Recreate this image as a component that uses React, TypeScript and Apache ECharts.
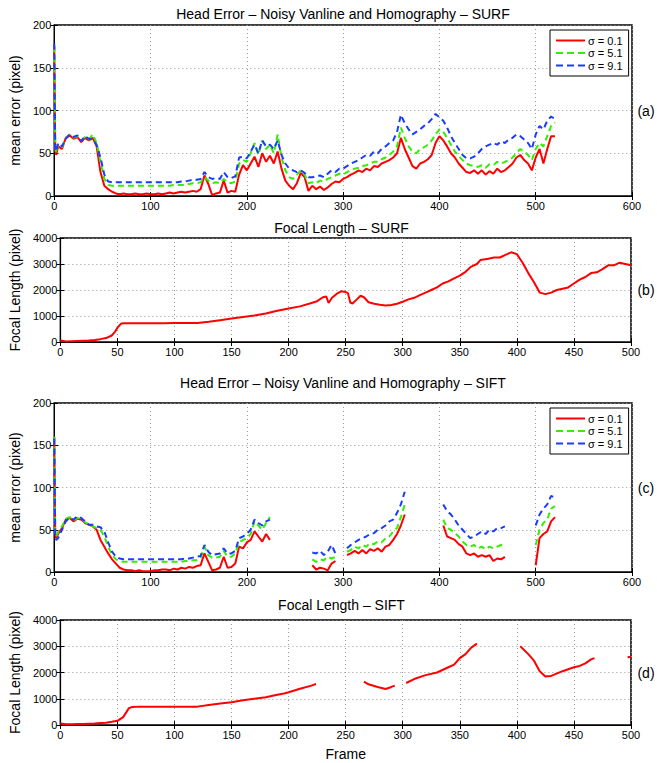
import React, { useEffect, useRef } from "react";
import * as echarts from "echarts";

// ---------- data ----------
const legendNames = ["σ = 0.1", "σ = 5.1", "σ = 9.1"];

// frame sample grid for the head-error panels (a) and (c)
const framesAC = [
  0, 1, 2, 4, 8, 12, 16, 20, 24, 28,
  32, 36, 40, 44, 48, 52, 56, 60, 64, 68,
  72, 76, 80, 84, 88, 92, 96, 100, 104, 108,
  112, 116, 120, 124, 128, 132, 136, 140, 144, 148,
  152, 156, 160, 164, 168, 172, 176, 180, 184, 188,
  192, 196, 200, 204, 208, 212, 216, 220, 224, 228,
  232, 236, 240, 244, 248, 252, 256, 260, 264, 268,
  272, 276, 280, 284, 288, 292, 296, 300, 304, 308,
  312, 316, 320, 324, 328, 332, 336, 340, 344, 348,
  352, 356, 360, 364, 368, 372, 376, 380, 384, 388,
  392, 396, 400, 404, 408, 412, 416, 420, 424, 428,
  432, 436, 440, 444, 448, 452, 456, 460, 464, 468,
  472, 476, 480, 484, 488, 492, 496, 500, 504, 508,
  512, 516, 520,
];

// (a) SURF head error
const surfRed = [
  175, 55, 48, 58, 55, 68, 71, 67, 69, 63,
  68, 65, 68, 58, 28, 12, 8, 5, 3, 2,
  3, 2, 2, 3, 2, 2, 3, 2, 2, 3,
  2, 3, 4, 3, 4, 5, 4, 5, 6, 5,
  8, 24, 14, 1, 3, 4, 18, 4, 6, 5,
  25, 36, 30, 38, 46, 34, 50, 40, 47, 38,
  52, 32, 18, 12, 8, 15, 27, 22, 6, 12,
  8, 11, 7, 10, 14, 17, 16, 20, 22, 25,
  27, 30, 28, 32, 30, 35, 34, 38, 40, 42,
  45, 50, 68, 55, 45, 35, 32, 38, 40, 43,
  48, 62, 70, 65, 58, 50, 45, 38, 33, 28,
  27, 30, 26, 30, 25, 29, 26, 32, 28, 30,
  34, 38, 45, 48, 42, 38, 30, 45, 55, 38,
  55, 70, 70,
];
const surfGreen = [
  175, 58, 50, 60, 57, 68, 72, 68, 70, 65,
  69, 66, 72, 62, 40, 20, 13, 12, 12, 12,
  12, 12, 12, 12, 12, 12, 12, 12, 12, 12,
  12, 12, 12, 13, 13, 13, 13, 14, 15, 15,
  16, 22, 18, 15, 16, 15, 20, 16, 15, 17,
  38, 42, 40, 50, 62, 48, 65, 55, 60, 50,
  72, 45, 30, 22, 20, 25, 30, 25, 15, 16,
  15, 18, 17, 20, 22, 24, 26, 25, 28, 30,
  32, 33, 35, 36, 38, 40, 40, 43, 45, 48,
  52, 58, 80, 68, 58, 52, 50, 55, 57, 60,
  65, 72, 78, 75, 68, 60, 52, 47, 42, 38,
  36, 35, 34, 36, 33, 37, 36, 40, 38, 40,
  42, 45, 50, 55, 52, 48, 42, 55, 62, 58,
  70, 82, 86,
];
const surfBlue = [
  178, 56, 52, 62, 58, 67, 72, 69, 71, 64,
  70, 67, 66, 60, 45, 25, 17, 16, 16, 16,
  16, 16, 16, 16, 16, 16, 16, 16, 16, 16,
  16, 16, 16, 16, 16, 17, 17, 18, 19, 19,
  20, 28, 22, 20, 21, 20, 28, 22, 21, 23,
  45, 46, 44, 52, 60, 50, 65, 58, 60, 55,
  65, 48, 38, 32, 30, 28, 30, 27, 22, 22,
  23, 24, 22, 26, 30, 28, 32, 32, 35, 38,
  40, 42, 45, 48, 47, 52, 50, 55, 58, 62,
  65, 75, 95, 85, 78, 72, 75, 78, 82, 85,
  90, 96, 92, 88, 80, 70, 62, 55, 48, 44,
  44, 46, 50, 55, 58, 60, 62, 60, 64, 62,
  66, 68, 72, 70, 66, 62, 55, 72, 82, 78,
  88, 93, 90,
];

// (c) SIFT head error (null = no estimate)
const siftRed = [
  160, 45, 40, 45, 52, 62, 64, 60, 63, 62,
  58, 56, 54, 50, 38, 30, 22, 15, 10, 5,
  3, 2, 2, 1, 2, 1, 1, 1, 2, 2,
  3, 3, 2, 4, 3, 5, 4, 6, 5, 7,
  8, 22, 12, 2, 3, 5, 18, 5, 6, 10,
  30, 28, 35, 38, 48, 42, 36, 45, 38, null,
  null, null, null, null, null, null, null, null, null, 8,
  3, 5, 4, 2, 10, 13, null, null, 20, 22,
  25, 22, 26, 22, 27, 25, 28, 24, 30, 32,
  38, 45, 55, 68, null, null, null, null, null, null,
  null, null, null, 55, 42, 40, 38, 33, 30, 22,
  20, 22, 18, 20, 18, 20, 13, 16, 15, 18,
  null, null, null, null, null, null, null, 8, 40, 45,
  48, 60, 65,
];
const siftGreen = [
  160, 48, 42, 47, 54, 63, 65, 61, 64, 63,
  59, 56, 54, 52, 50, 42, 30, 20, 15, 13,
  12, 12, 12, 12, 12, 12, 12, 12, 12, 12,
  12, 12, 12, 12, 12, 12, 13, 13, 14, 14,
  16, 30, 20, 17, 17, 18, 25, 18, 18, 22,
  35, 38, 40, 45, 60, 55, 50, 58, 65, null,
  null, null, null, null, null, null, null, null, null, 15,
  12, 15, 14, 18, 16, 18, null, null, 24, 26,
  30, 28, 32, 30, 34, 33, 36, 35, 40, 42,
  48, 52, 65, 80, null, null, null, null, null, null,
  null, null, null, 62, 52, 50, 46, 42, 36, 32,
  30, 32, 28, 30, 27, 30, 28, 30, 32, 30,
  null, null, null, null, null, null, null, 32, 50, 58,
  62, 75, 78,
];
const siftBlue = [
  158, 42, 38, 40, 50, 60, 64, 62, 66, 64,
  60, 56, 56, 54, 53, 48, 35, 24, 18, 16,
  15, 15, 15, 15, 15, 15, 15, 15, 15, 15,
  15, 15, 15, 15, 15, 15, 16, 16, 17, 18,
  19, 32, 24, 20, 21, 22, 28, 22, 22, 25,
  40, 42, 45, 50, 62, 58, 55, 60, 62, null,
  null, null, null, null, null, null, null, null, null, 23,
  22, 25, 20, 24, 32, 22, null, null, 28, 32,
  35, 38, 40, 42, 45, 46, 50, 52, 55, 60,
  62, 70, 80, 95, null, null, null, null, null, null,
  null, null, null, 80, 72, 68, 62, 55, 50, 45,
  40, 42, 45, 48, 45, 50, 48, 52, 52, 54,
  null, null, null, null, null, null, null, 55, 68, 75,
  80, 90, 88,
];

// (b) SURF focal length
const framesSurfFocal = [
  0, 5, 10, 15, 20, 25, 30, 35, 40, 45,
  48, 50, 53, 55, 60, 70, 80, 90, 100, 110,
  120, 130, 140, 150, 160, 170, 180, 190, 200, 210,
  220, 225, 230, 233, 235, 238, 242, 246, 250, 252,
  254, 256, 260, 263, 266, 270, 275, 280, 285, 290,
  295, 300, 305, 310, 315, 320, 325, 330, 335, 340,
  345, 350, 355, 360, 365, 368, 375, 380, 385, 390,
  395, 400, 405, 410, 415, 420, 425, 430, 435, 440,
  445, 450, 455, 460, 465, 470, 475, 480, 485, 490,
  495, 500,
];
const surfFocal = [
  60, 20, 30, 40, 50, 60, 80, 110, 150, 250,
  400, 550, 700, 720, 720, 720, 725, 725, 730, 730,
  730, 780, 840, 900, 960, 1020, 1100, 1200, 1290, 1370,
  1500, 1570, 1720, 1750, 1500, 1700, 1850, 1950, 1920, 1880,
  1520, 1480, 1650, 1780, 1720, 1530, 1470, 1430, 1400, 1420,
  1470, 1550, 1640, 1700, 1800, 1900, 2000, 2100, 2250, 2330,
  2450, 2550, 2700, 2900, 3000, 3150, 3200, 3250, 3250, 3350,
  3450, 3380, 3050, 2650, 2300, 1900, 1840, 1900, 2000, 2050,
  2100, 2250, 2400, 2500, 2650, 2680, 2800, 2950, 2950, 3050,
  3000, 2950,
];

// (d) SIFT focal length (null = no estimate)
const framesSiftFocal = [
  0, 5, 10, 15, 20, 25, 30, 35, 40, 45,
  50, 55, 58, 60, 63, 70, 80, 90, 100, 110,
  120, 130, 140, 150, 160, 170, 180, 190, 196, 200,
  210, 220, 224, 230,
  266, 270, 278, 285, 290, 293, 298,
  303, 310, 320, 330, 340, 345, 350, 355, 360,
  365, 380,
  403, 410, 415, 420, 425, 430, 440, 450,
  455, 460, 465, 468, 480,
  497, 500,
];
const siftFocal = [
  60, 30, 30, 40, 40, 50, 60, 75, 90, 120,
  160, 300, 500, 640, 690, 700, 700, 700, 700, 700,
  700, 760, 820, 870, 940, 1000, 1060, 1150, 1200, 1250,
  1380, 1500, 1560, null,
  1650, 1550, 1450, 1370, 1450, 1500, null,
  1600, 1750, 1900, 2000, 2200, 2300, 2550, 2700, 2950,
  3100, null,
  3000, 2700, 2450, 2050, 1850, 1870, 2050, 2200,
  2250, 2350, 2500, 2550, null,
  2580, 2600,
];

const titles = [
  "Head Error – Noisy Vanline and Homography – SURF",
  "Focal Length – SURF",
  "Head Error – Noisy Vanline and Homography – SIFT",
  "Focal Length – SIFT",
];
const panelTags = ["(a)", "(b)", "(c)", "(d)"];

// ---------- styling ----------
const FONT = "'Liberation Sans', Arial, Helvetica, sans-serif";
const RED = "#ff0000";
const GREEN = "#33ee00";
const BLUE = "#1a3cff";
const SOLID_ICON = "path://M0,0H29V2H0Z";
const DASH_ICON = "path://M0,0H7V2H0Z M11,0H18V2H11Z M22,0H29V2H22Z";

const grids = [
  { left: 54, top: 25, width: 578, height: 171 },
  { left: 52, top: 238, width: 579, height: 104 },
  { left: 54, top: 403, width: 578, height: 169 },
  { left: 52, top: 620, width: 579, height: 105 },
];
const titleY = [14, 228, 383, 605];

function pairs(xs: number[], ys: (number | null)[]) {
  return xs.map((x, i) => [x, ys[i] == null ? "-" : ys[i]]);
}

export default function App() {
  const ref = useRef<HTMLDivElement>(null);

  useEffect(() => {
    if (!ref.current) return;
    const chart = echarts.init(ref.current, undefined, { renderer: "svg" });

    const isErr = [true, false, true, false];
    const xAxis: any[] = [];
    const yAxis: any[] = [];
    const plain = (v: number) => String(v);
    grids.forEach((g, i) => {
      const xMax = isErr[i] ? 600 : 500;
      const xInt = isErr[i] ? 100 : 50;
      const yMax = isErr[i] ? 200 : 4000;
      const yInt = isErr[i] ? 50 : 1000;
      xAxis.push({
        type: "value",
        gridIndex: i,
        min: 0,
        max: xMax,
        interval: xInt,
        position: "bottom",
        axisLine: { show: true, lineStyle: { color: "#000", width: 1 } },
        axisTick: { show: true, inside: true, length: 4, lineStyle: { color: "#000" } },
        axisLabel: { color: "#000", fontSize: 11, fontFamily: FONT, margin: 4, formatter: plain },
        splitLine: { show: true, lineStyle: { color: "#999", type: [1, 3], width: 1 } },
        name: i === 3 ? "Frame" : "",
        nameLocation: "middle",
        nameGap: 22,
        nameTextStyle: { color: "#000", fontSize: 14, fontFamily: FONT },
      });
      xAxis.push({
        type: "value",
        gridIndex: i,
        min: 0,
        max: xMax,
        interval: xInt,
        position: "top",
        axisLine: { show: false },
        axisTick: { show: true, inside: true, length: 4, lineStyle: { color: "#000" } },
        axisLabel: { show: false },
        splitLine: { show: false },
      });
      yAxis.push({
        type: "value",
        gridIndex: i,
        min: 0,
        max: yMax,
        interval: yInt,
        position: "left",
        axisLine: { show: true, lineStyle: { color: "#000", width: 1 } },
        axisTick: { show: true, inside: true, length: 4, lineStyle: { color: "#000" } },
        axisLabel: { color: "#000", fontSize: 11, fontFamily: FONT, margin: 3, formatter: plain },
        splitLine: { show: true, lineStyle: { color: "#999", type: [1, 3], width: 1 } },
        name: isErr[i] ? "mean error (pixel)" : "Focal Length (pixel)",
        nameLocation: "middle",
        nameGap: isErr[i] ? 30 : 31,
        nameTextStyle: { color: "#000", fontSize: 14, fontFamily: FONT },
      });
      yAxis.push({
        type: "value",
        gridIndex: i,
        min: 0,
        max: yMax,
        interval: yInt,
        position: "right",
        axisLine: { show: false },
        axisTick: { show: true, inside: true, length: 4, lineStyle: { color: "#000" } },
        axisLabel: { show: false },
        splitLine: { show: false },
      });
    });

    const lineSeries = (
      name: string,
      gi: number,
      data: any[],
      color: string,
      dashed: boolean
    ) => ({
      type: "line",
      name,
      xAxisIndex: gi * 2,
      yAxisIndex: gi * 2,
      data,
      symbol: "none",
      showSymbol: false,
      connectNulls: false,
      lineStyle: { color, width: 2, type: dashed ? [6, 4] : "solid" },
      itemStyle: { color },
      emphasis: { disabled: true },
    });

    const series = [
      lineSeries(legendNames[0], 0, pairs(framesAC, surfRed), RED, false),
      lineSeries(legendNames[1], 0, pairs(framesAC, surfGreen), GREEN, true),
      lineSeries(legendNames[2], 0, pairs(framesAC, surfBlue), BLUE, true),
      lineSeries("surfFocal", 1, pairs(framesSurfFocal, surfFocal), RED, false),
      lineSeries(legendNames[0], 2, pairs(framesAC, siftRed), RED, false),
      lineSeries(legendNames[1], 2, pairs(framesAC, siftGreen), GREEN, true),
      lineSeries(legendNames[2], 2, pairs(framesAC, siftBlue), BLUE, true),
      lineSeries("siftFocal", 3, pairs(framesSiftFocal, siftFocal), RED, false),
    ];

    const legendBase = {
      data: [
        { name: legendNames[0], icon: SOLID_ICON },
        { name: legendNames[1], icon: DASH_ICON },
        { name: legendNames[2], icon: DASH_ICON },
      ],
      orient: "vertical",
      left: 550,
      backgroundColor: "#fff",
      borderColor: "#000",
      borderWidth: 1,
      padding: [5, 6, 5, 6],
      itemWidth: 29,
      itemHeight: 2,
      itemGap: 1.5,
      selectedMode: false,
      textStyle: { color: "#000", fontSize: 11, fontFamily: FONT, padding: [0, 0, 0, -2] },
    };

    const graphic: any[] = [];
    grids.forEach((g, i) => {
      graphic.push({
        type: "text",
        x: g.left + g.width / 2,
        y: titleY[i],
        style: {
          text: titles[i],
          fill: "#000",
          font: `14px ${FONT}`,
          textAlign: "center",
          textVerticalAlign: "middle",
        },
      });
      graphic.push({
        type: "text",
        x: 646,
        y: g.top + g.height / 2,
        style: {
          text: panelTags[i],
          fill: "#000",
          font: `14px ${FONT}`,
          textAlign: "center",
          textVerticalAlign: "middle",
        },
      });
    });

    chart.setOption({
      animation: false,
      backgroundColor: "#fff",
      grid: grids.map((g) => ({
        ...g,
        show: true,
        borderColor: "#000",
        borderWidth: 1.5,
        backgroundColor: "transparent",
      })),
      xAxis,
      yAxis,
      series,
      legend: [
        { ...legendBase, top: 30 },
        { ...legendBase, top: 408 },
      ],
      graphic,
    });

    return () => chart.dispose();
  }, []);

  return (
    <div
      ref={ref}
      style={{ position: "fixed", left: 0, top: 0, width: 657, height: 763, background: "#fff" }}
    />
  );
}
